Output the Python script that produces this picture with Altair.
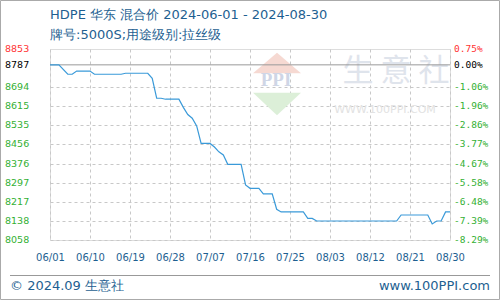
import altair as alt
import pandas as pd

# ---- data ----
dates = ["2024-06-01","2024-06-03","2024-06-05","2024-06-06","2024-06-07","2024-06-10",
         "2024-06-11","2024-06-17","2024-06-18","2024-06-23","2024-06-24","2024-06-25",
         "2024-06-26","2024-06-27","2024-06-30","2024-07-01","2024-07-02","2024-07-03",
         "2024-07-04","2024-07-05","2024-07-07","2024-07-08","2024-07-09","2024-07-10",
         "2024-07-11","2024-07-14","2024-07-15","2024-07-16","2024-07-18","2024-07-19",
         "2024-07-21","2024-07-22","2024-07-23","2024-07-28","2024-07-29","2024-07-30",
         "2024-07-31","2024-08-18","2024-08-19","2024-08-25","2024-08-26","2024-08-27",
         "2024-08-28","2024-08-29","2024-08-30"]
prices = [8787,8787,8748,8748,8761,8761,8748,8748,8752,8752,8731,8648,8648,8644,8644,
          8610,8580,8565,8533,8460,8460,8445,8425,8412,8373,8373,8287,8273,8273,8250,
          8250,8186,8175,8175,8148,8148,8137,8137,8162,8162,8125,8137,8137,8175,8175]

y_ticks = [8853, 8787, 8694, 8615, 8535, 8456, 8376, 8297, 8217, 8138, 8058]
pct_labels = ["0.75%", "0.00%", "-1.06%", "-1.96%", "-2.86%", "-3.77%", "-4.67%",
              "-5.58%", "-6.48%", "-7.39%", "-8.29%"]
label_colors = ["#ff3333", "#000000"] + ["#33b033"] * 9
x_tick_dates = ["2024-06-01","2024-06-10","2024-06-19","2024-06-28","2024-07-07",
                "2024-07-16","2024-07-25","2024-08-03","2024-08-12","2024-08-21","2024-08-30"]

title_text = "HDPE 华东 混合价 2024-06-01 - 2024-08-30"
subtitle_text = "牌号:5000S;用途级别:拉丝级"
footer_left = "© 2024.09 生意社"
footer_right = "www.100PPI.com"

BLUE = "#1e5f91"
FONT = "DejaVu Sans"

df = pd.DataFrame({"date": dates, "price": prices})
ticks_df = pd.DataFrame({"v": y_ticks, "pct": pct_labels, "c": label_colors})

def ms(d):
    return int(pd.Timestamp(d, tz="UTC").timestamp() * 1000)

x_vals = [ms(d) for d in x_tick_dates]
x_scale = alt.Scale(type="utc", domain=[ms("2024-06-01"), ms("2024-08-30")])
y_scale = alt.Scale(domain=[8058, 8853], nice=False, zero=False)

grid_vals = [v for v in y_ticks if v not in (8787, 8853)]

x_axis = alt.Axis(values=x_vals, labelExpr="utcFormat(datum.value, '%m/%d')",
                  grid=True, gridDash=[3, 3], gridColor="#c8c8c8",
                  ticks=False, domain=False, labelFont=FONT, labelFontSize=10,
                  labelColor=BLUE, labelPadding=12, labelFlush=False,
                  labelOverlap=False, title=None)
y_axis = alt.Axis(values=grid_vals, grid=True, gridDash=[3, 3], gridColor="#c8c8c8",
                  labels=False, ticks=False, domain=False, title=None)

def txt(s, x, y, size=13, color=BLUE, align="left", font=FONT, weight="normal"):
    return alt.Chart(pd.DataFrame({"t": [s]})).mark_text(
        align=align, baseline="middle", fontSize=size, color=color, font=font,
        fontWeight=weight
    ).encode(text="t:N", x=alt.value(x), y=alt.value(y))

# watermark
tri_up = alt.Chart(pd.DataFrame({"k": [1]})).mark_point(
    shape="M-1,0.43L0,-0.43L1,0.43Z", filled=True, size=2300, color="#f6d9d2", opacity=1
).encode(x=alt.value(227), y=alt.value(14))
tri_dn = alt.Chart(pd.DataFrame({"k": [1]})).mark_point(
    shape="M-1,-0.47L0,0.47L1,-0.47Z", filled=True, size=2300, color="#dcefd8", opacity=1
).encode(x=alt.value(227), y=alt.value(55))
wm_ppi = txt("PPI", 226, 31, size=19, color="#cfd6e6", align="center", font="Liberation Serif", weight="bold")
wm_cn = txt("生 意 社", 346, 23, size=31, color="#dfe4ec", align="center", font="Noto Sans CJK SC")
wm_url = txt("WWW.100PPI.COM", 335, 61, size=11, color="#e2e2e2", align="center")

zero_rule = alt.Chart(pd.DataFrame({"v": [8787]})).mark_rule(color="#999999", strokeWidth=1).encode(
    y=alt.Y("v:Q", scale=y_scale, axis=y_axis))

line = alt.Chart(df).mark_line(color="#3a9ad9", strokeWidth=1.2, interpolate="linear").encode(
    x=alt.X("date:T", scale=x_scale, axis=x_axis),
    y=alt.Y("price:Q", scale=y_scale, axis=y_axis))

left_labels = alt.Chart(ticks_df).mark_text(align="left", baseline="middle", font=FONT, fontSize=9.5).encode(
    y=alt.Y("v:Q", scale=y_scale, axis=y_axis), x=alt.value(-45), text="v:N",
    color=alt.Color("c:N", scale=None))
right_labels = alt.Chart(ticks_df).mark_text(align="left", baseline="middle", font="DejaVu Sans Mono", fontSize=9.5).encode(
    y=alt.Y("v:Q", scale=y_scale, axis=y_axis), x=alt.value(404), text="pct:N",
    color=alt.Color("c:N", scale=None))

title = txt(title_text, 0, -34)
subtitle = txt(subtitle_text, 0, -14)
foot_rule = alt.Chart(pd.DataFrame({"k": [1]})).mark_rule(color="#999999", strokeWidth=1).encode(
    x=alt.value(-40), x2=alt.value(440), y=alt.value(226.5))
foot_l = txt(footer_left, -40, 237)
foot_r = txt(footer_right, 440, 237, align="right")
border = alt.Chart(pd.DataFrame({"k": [1]})).mark_rect(
    fill=None, stroke="#aaaaaa", strokeWidth=1
).encode(x=alt.value(-49.5), x2=alt.value(449.5), y=alt.value(-48.5), y2=alt.value(250.5))

chart = alt.layer(
    tri_up, tri_dn, wm_ppi, wm_cn, wm_url,
    zero_rule, line, left_labels, right_labels,
    title, subtitle, foot_rule, foot_l, foot_r, border
).properties(
    width=400, height=191, autosize="none",
    padding={"left": 50, "top": 49, "right": 50, "bottom": 60}
).configure_view(stroke="#999999", strokeWidth=1).configure(background="white")

chart.save("out.html", embed_options={"renderer": "svg", "actions": False})
